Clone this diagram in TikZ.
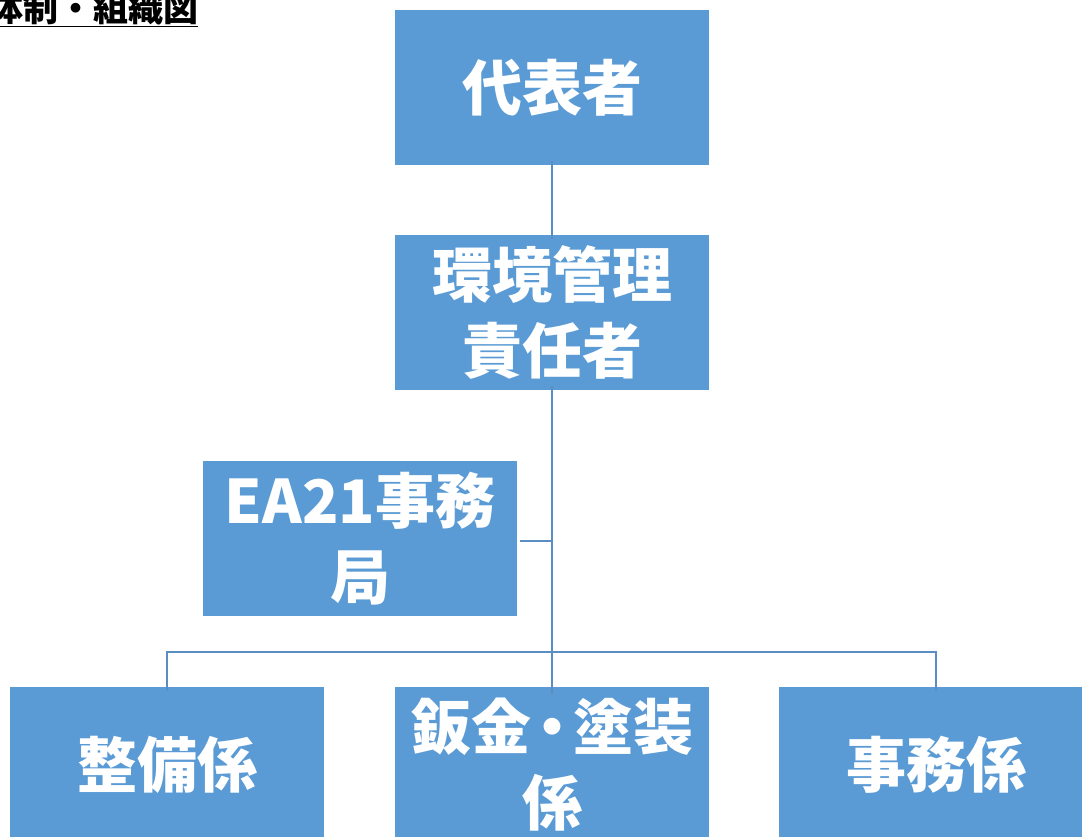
\documentclass[tikz,border=0pt]{standalone}
\usepackage{fontspec}
\newfontfamily\jp{Noto Sans CJK JP}
\definecolor{boxfill}{HTML}{5B9BD5}
\definecolor{linecol}{HTML}{5A8DC2}
\begin{document}
\begin{tikzpicture}[x=1pt,y=-1pt,
  orgbox/.style={fill=boxfill, draw=none, minimum width=314pt, minimum height=155pt, inner sep=0pt,
    text=white, align=center, font=\jp\bfseries\fontsize{60}{76}\selectfont},
  conn/.style={draw=linecol, line width=2.2pt}]
\useasboundingbox (0,0) rectangle (1082,836);
\clip (0,0) rectangle (1082,836);
\fill[white] (0,0) rectangle (1082,836);
\node[anchor=base west, inner sep=0pt, font=\jp\bfseries\fontsize{35}{38}\selectfont] (title) at (-12,21) {\underline{体制・組織図}};
\node[orgbox] (ceo) at (552,87.5) {代表者};
\node[orgbox] (env) at (552,312.5) {環境管理\\責任者};
\node[orgbox] (ea) at (360,538.5) {EA21事務\\局};
\node[orgbox] (seibi) at (167,764.5) {整備係};
\node[orgbox] (bankin) at (552,764.5) {鈑金\hspace{-9pt}・\hspace{-9pt}塗装\\係};
\node[orgbox] (jimu) at (936,764.5) {事務係};
\coordinate (j1) at (552,541);
\coordinate (j2) at (552,652);
\draw[conn] ([yshift=4pt]ceo.south) -- ([yshift=-4pt]env.north);
\draw[conn] ([yshift=4pt]env.south) -- ([yshift=-7pt]bankin.north);
\draw[conn] ([xshift=3pt]ea.east |- j1) -- (j1);
\draw[conn] ([yshift=-4pt]seibi.north) -- (seibi.north |- j2) -- (jimu.north |- j2) -- ([yshift=-4pt]jimu.north);
\end{tikzpicture}
\end{document}
